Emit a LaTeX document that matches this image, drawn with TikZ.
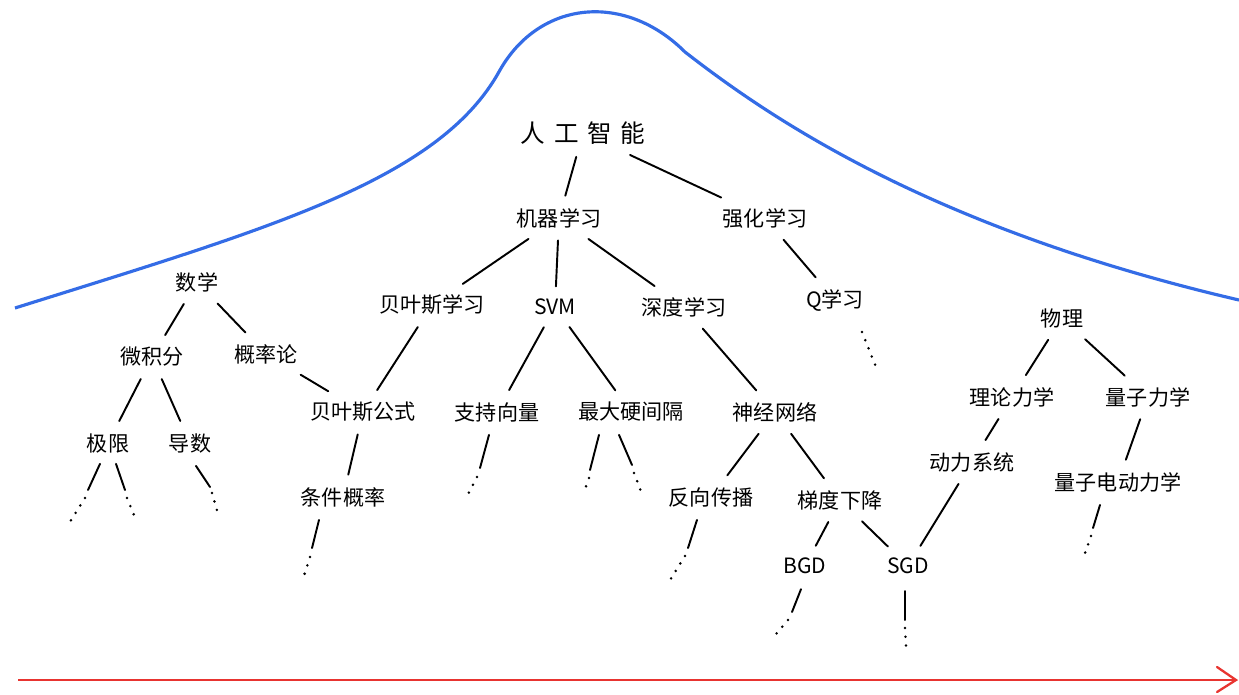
\documentclass[tikz,border=0pt]{standalone}
\usepackage{fontspec}
\newfontfamily\cjk{Noto Sans CJK SC}
\definecolor{mtblue}{RGB}{52,108,230}
\definecolor{arrred}{RGB}{232,52,48}
\begin{document}
\begin{tikzpicture}[x=0.02cm,y=-0.02cm,
  lbl/.style={font=\cjk\fontsize{12}{14}\selectfont, inner sep=5pt},
  big/.style={font=\cjk\fontsize{14}{16}\selectfont, inner sep=5pt},
  edge/.style={line width=1.1pt, line cap=round, shorten >=2pt, shorten <=2pt},
  tail/.style={line width=1.1pt, line cap=round},
  dots/.style={line width=1.6pt, line cap=round, dash pattern=on 0pt off 5pt}]
\useasboundingbox (0,0) rectangle (1239,694);
% mountain curve
\draw[mtblue, line width=1.8pt] (15,308) .. controls (270,228) and (440,180) .. (500,70)
  .. controls (540,0) and (625,-8) .. (685,52)
  .. controls (770,118) and (930,228) .. (1239,300);
% time arrow
\coordinate (t0) at (18,680);
\coordinate (t1) at (1236,680);
\draw[arrred, line width=1.3pt] (t0) -- (t1);
\draw[arrred, line width=1.3pt, line cap=round] (1217,667) -- (t1) -- (1217,692);
% nodes
\node[big] (ai) at (583,133) {人\hspace{5pt}工\hspace{5pt}智\hspace{5pt}能};
\node[lbl] (ml) at (559,218) {机器学习};
\node[lbl] (rl) at (765,218) {强化学习};
\node[lbl] (math) at (197,282) {数学};
\node[lbl] (bl) at (432,305) {贝叶斯学习};
\node[lbl] (svm) at (555,307) {SVM};
\node[lbl] (dl) at (684,307) {深度学习};
\node[lbl] (ql) at (835,300) {Q学习};
\node[lbl] (phy) at (1062,318) {物理};
\node[lbl] (calc) at (152,357) {微积分};
\node[lbl] (prob) at (266,354) {概率论};
\node[lbl] (bf) at (363,412) {贝叶斯公式};
\node[lbl] (sv) at (497,412) {支持向量};
\node[lbl] (hm) at (631,412) {最大硬间隔};
\node[lbl] (nn) at (775,412) {神经网络};
\node[lbl] (tm) at (1012,397) {理论力学};
\node[lbl] (qm) at (1148,397) {量子力学};
\node[lbl] (lim) at (108,443) {极限};
\node[lbl] (der) at (190,443) {导数};
\node[lbl] (cp) at (343,497) {条件概率};
\node[lbl] (ds) at (972,462) {动力系统};
\node[lbl] (qed) at (1118,482) {量子电动力学};
\node[lbl] (bp) at (711,497) {反向传播};
\node[lbl] (gd) at (840,500) {梯度下降};
\node[lbl] (bgd) at (805,566) {BGD};
\node[lbl] (sgd) at (908,566) {SGD};
% tree edges
\draw[edge] (ai) -- (ml);
\draw[edge] (ai) -- (rl);
\draw[edge] (ml) -- (bl);
\draw[edge] (ml) -- (svm);
\draw[edge] (ml) -- (dl);
\draw[edge] (rl) -- (ql);
\draw[edge] (math) -- (calc);
\draw[edge] (math) -- (prob);
\draw[edge] (prob) -- (bf);
\draw[edge] (bl) -- (bf);
\draw[edge] (calc) -- (lim);
\draw[edge] (calc) -- (der);
\draw[edge] (bf) -- (cp);
\draw[edge] (svm) -- (sv);
\draw[edge] (svm) -- (hm);
\draw[edge] (dl) -- (nn);
\draw[edge] (nn) -- (bp);
\draw[edge] (nn) -- (gd);
\draw[edge] (gd) -- (bgd);
\draw[edge] (gd) -- (sgd);
\draw[edge] (phy) -- (tm);
\draw[edge] (phy) -- (qm);
\draw[edge] (tm) -- (ds);
\draw[edge] (qm) -- (qed);
\draw[edge] (sgd) -- (ds);
% open ends (solid stub + dots)
\coordinate (q1) at (862,332); \coordinate (q2) at (878,372);
\draw[dots] (q1) -- (q2);
\coordinate (l1) at (88,490); \coordinate (l2) at (68,525);
\draw[tail] (lim.south) ++(-8,2) coordinate (l0); \draw[tail] (l0) -- (l1); \draw[dots] (l1) ++(-3,8) -- (l2);
\coordinate (r1) at (125,490); \coordinate (r2) at (136,520);
\draw[tail] (lim.south) ++(8,2) coordinate (r0); \draw[tail] (r0) -- (r1); \draw[dots] (r1) ++(2,8) -- (r2);
\coordinate (d1) at (210,487); \coordinate (d2) at (218,514);
\draw[tail] (der.south) ++(6,4) coordinate (d0); \draw[tail] (d0) -- (d1); \draw[dots] (d1) ++(2,6) -- (d2);
\coordinate (c1) at (312,548); \coordinate (c2) at (302,582);
\draw[tail] (cp.south) ++(-24,4) coordinate (c0); \draw[tail] (c0) -- (c1); \draw[dots] (c1) ++(-2,9) -- (c2);
\coordinate (s1) at (480,468); \coordinate (s2) at (466,498);
\draw[tail] (sv.south) ++(-8,4) coordinate (s0); \draw[tail] (s0) -- (s1); \draw[dots] (s1) ++(-3,9) -- (s2);
\coordinate (h1) at (590,470); \coordinate (h2) at (584,492);
\draw[tail] (hm.south) ++(-32,4) coordinate (h0); \draw[tail] (h0) -- (h1); \draw[dots] (h1) ++(-1,8) -- (h2);
\coordinate (k1) at (632,465); \coordinate (k2) at (642,494);
\draw[tail] (hm.south) ++(-12,4) coordinate (k0); \draw[tail] (k0) -- (k1); \draw[dots] (k1) ++(2,8) -- (k2);
\coordinate (b1) at (688,548); \coordinate (b2) at (670,580);
\draw[tail] (bp.south) ++(-14,4) coordinate (b0); \draw[tail] (b0) -- (b1); \draw[dots] (b1) ++(-3,8) -- (b2);
\coordinate (g1) at (792,612); \coordinate (g2) at (776,634);
\draw[tail] (bgd.south) ++(-4,6) coordinate (g0); \draw[tail] (g0) -- (g1); \draw[dots] (g1) ++(-4,8) -- (g2);
\coordinate (e1) at (905,620); \coordinate (e2) at (906,646);
\draw[tail] (sgd.south) ++(-3,8) coordinate (e0); \draw[tail] (e0) -- (e1); \draw[dots] (e1) ++(0,8) -- (e2);
\coordinate (m1) at (1093,528); \coordinate (m2) at (1084,556);
\draw[tail] (qed.south) ++(-18,4) coordinate (m0); \draw[tail] (m0) -- (m1); \draw[dots] (m1) ++(-2,8) -- (m2);
\end{tikzpicture}
\end{document}
